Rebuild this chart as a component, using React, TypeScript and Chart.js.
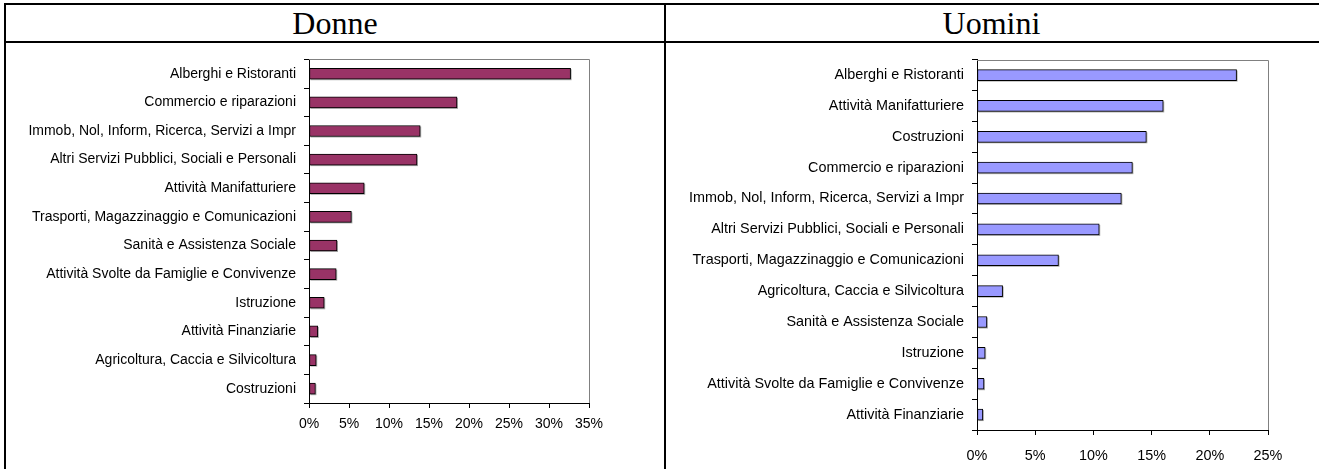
import React, { useEffect, useRef } from 'react';
import { Chart, registerables } from 'chart.js';

Chart.register(...registerables);

const donneCategories = [
  'Alberghi e Ristoranti',
  'Commercio e riparazioni',
  'Immob, Nol, Inform, Ricerca, Servizi a Impr',
  'Altri Servizi Pubblici, Sociali e Personali',
  'Attività Manifatturiere',
  'Trasporti, Magazzinaggio e Comunicazioni',
  'Sanità e Assistenza Sociale',
  'Attività Svolte da Famiglie e Convivenze',
  'Istruzione',
  'Attività Finanziarie',
  'Agricoltura, Caccia e Silvicoltura',
  'Costruzioni',
];
const donneValues = [32.7, 18.5, 13.9, 13.5, 6.9, 5.3, 3.5, 3.4, 1.9, 1.1, 0.9, 0.8];

const uominiCategories = [
  'Alberghi e Ristoranti',
  'Attività Manifatturiere',
  'Costruzioni',
  'Commercio e riparazioni',
  'Immob, Nol, Inform, Ricerca, Servizi a Impr',
  'Altri Servizi Pubblici, Sociali e Personali',
  'Trasporti, Magazzinaggio e Comunicazioni',
  'Agricoltura, Caccia e Silvicoltura',
  'Sanità e Assistenza Sociale',
  'Istruzione',
  'Attività Svolte da Famiglie e Convivenze',
  'Attività Finanziarie',
];
const uominiValues = [22.3, 16.0, 14.55, 13.35, 12.4, 10.5, 7.0, 2.2, 0.85, 0.7, 0.6, 0.5];

const donneMax = 35;
const uominiMax = 25;
const tickStep = 5;

const headerLeft = 'Donne';
const headerRight = 'Uomini';

const framePlugin = {
  id: 'frame',
  beforeDatasetsDraw(chart: any) {
    const { ctx } = chart;
    const meta = chart.getDatasetMeta(0);
    ctx.save();
    ctx.fillStyle = '#a6a6a6';
    meta.data.forEach((bar: any) => {
      const p = bar.getProps(['x', 'y', 'base', 'height'], true);
      ctx.fillRect(p.base + 1, p.y - p.height / 2 + 1, p.x - p.base, p.height);
    });
    ctx.restore();
  },
  afterDatasetsDraw(chart: any) {
    const { ctx, chartArea: a } = chart;
    ctx.save();
    ctx.strokeStyle = '#808080';
    ctx.lineWidth = 1;
    const t = Math.round(a.top) + 0.5;
    const r = Math.round(a.right) + 0.5;
    ctx.beginPath();
    ctx.moveTo(Math.round(a.left), t);
    ctx.lineTo(r, t);
    ctx.lineTo(r, Math.round(a.bottom));
    ctx.stroke();
    ctx.restore();
  },
};

function makeConfig(
  labels: string[],
  values: number[],
  max: number,
  color: string,
  yWidth: number,
  pad: any,
  fontSize: number,
  thickness: number,
  xPadding: number
): any {
  const font = { family: '"Liberation Sans", Arial, sans-serif', size: fontSize };
  return {
    type: 'bar',
    data: {
      labels,
      datasets: [
        {
          data: values,
          backgroundColor: color,
          borderColor: '#000',
          borderWidth: 1,
          borderSkipped: false,
          barThickness: thickness,
        },
      ],
    },
    options: {
      indexAxis: 'y',
      responsive: false,
      animation: false,
      layout: { padding: pad },
      plugins: {
        legend: { display: false },
        tooltip: { enabled: false },
        title: { display: false },
      },
      scales: {
        x: {
          type: 'linear',
          min: 0,
          max,
          ticks: {
            stepSize: tickStep,
            callback: (v: any) => v + '%',
            color: '#000',
            font,
            padding: xPadding,
            maxRotation: 0,
            autoSkip: false,
          },
          grid: { drawOnChartArea: false, drawTicks: true, tickLength: 5, color: '#000' },
          border: { color: '#000', width: 1 },
          afterFit: (s: any) => {
            s.height = 30;
          },
        },
        y: {
          ticks: { color: '#000', font, padding: 8, autoSkip: false },
          grid: { drawOnChartArea: false, drawTicks: true, tickLength: 5, color: '#000', offset: true },
          border: { color: '#000', width: 1 },
          afterFit: (s: any) => {
            s.width = yWidth;
          },
        },
      },
    },
    plugins: [framePlugin],
  };
}

function BarChart(props: { config: any; width: number; height: number; left: number; top: number }) {
  const ref = useRef<HTMLCanvasElement>(null);
  useEffect(() => {
    if (!ref.current) return;
    const chart = new Chart(ref.current, props.config);
    return () => chart.destroy();
  }, []);
  return (
    <canvas
      ref={ref}
      width={props.width}
      height={props.height}
      style={{
        position: 'absolute',
        left: props.left,
        top: props.top,
        width: props.width,
        height: props.height,
        display: 'block',
      }}
    />
  );
}

const line = (left: number, top: number, width: number, height: number) => (
  <div style={{ position: 'absolute', left, top, width, height, background: '#000' }} />
);

export default function App() {
  const donneCfg = makeConfig(
    donneCategories,
    donneValues,
    donneMax,
    '#993366',
    303,
    { left: 0, top: 12, right: 75, bottom: 36 },
    14,
    11,
    8
  );
  const uominiCfg = makeConfig(
    uominiCategories,
    uominiValues,
    uominiMax,
    '#9999FF',
    311,
    { left: 0, top: 15, right: 48, bottom: 9 },
    14.4,
    11,
    12
  );
  const headerStyle: any = {
    position: 'absolute',
    top: 5,
    height: 36,
    display: 'flex',
    alignItems: 'center',
    justifyContent: 'center',
    fontFamily: '"Liberation Serif", "Times New Roman", serif',
    fontSize: 32,
    color: '#000',
  };
  return (
    <div
      style={{
        position: 'absolute',
        left: 0,
        top: 0,
        width: 1319,
        height: 469,
        overflow: 'hidden',
        background: '#fff',
      }}
    >
      <div style={{ ...headerStyle, left: 6, width: 658 }}>{headerLeft}</div>
      <div style={{ ...headerStyle, left: 666, width: 651 }}>{headerRight}</div>
      {line(4, 3, 1315, 2)}
      {line(4, 41, 1315, 2)}
      {line(4, 3, 2, 466)}
      {line(664, 3, 2, 466)}
      <BarChart config={donneCfg} left={6} top={43} width={658} height={426} />
      <BarChart config={uominiCfg} left={666} top={43} width={650} height={426} />
    </div>
  );
}
